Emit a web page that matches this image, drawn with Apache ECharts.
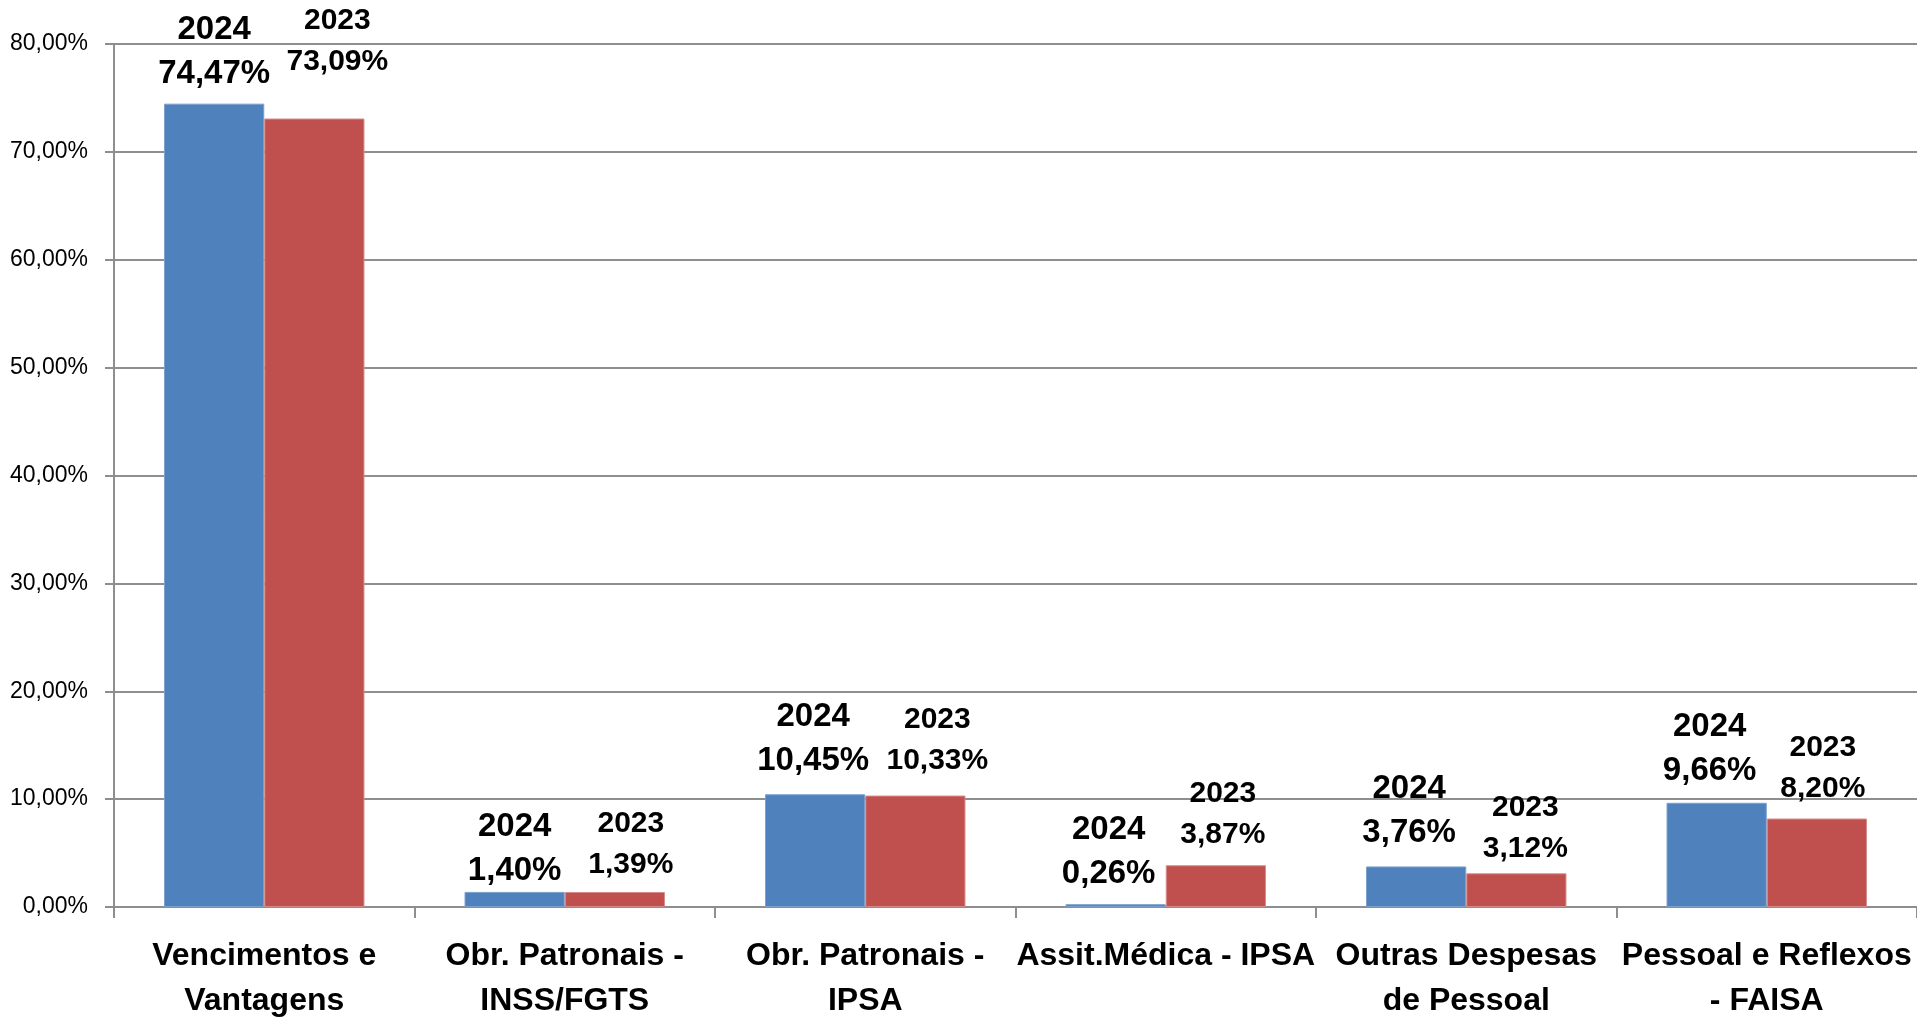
<!DOCTYPE html>
<html>
<head>
<meta charset="utf-8">
<script src="https://cdn.jsdelivr.net/npm/echarts@6/dist/echarts.min.js"></script>
<style>
html,body{margin:0;padding:0;background:#fff;}
#chart{width:1917px;height:1024px;}
</style>
</head>
<body>
<div id="chart"></div>
<script>
// ---- data ----
var categories = [
  "Vencimentos e\nVantagens",
  "Obr. Patronais -\nINSS/FGTS",
  "Obr. Patronais -\nIPSA",
  "Assit.Médica - IPSA",
  "Outras Despesas\nde Pessoal",
  "Pessoal e Reflexos\n- FAISA"
];
var seriesNames = ["2024", "2023"];
var values2024 = [74.47, 1.40, 10.45, 0.26, 3.76, 9.66];
var values2023 = [73.09, 1.39, 10.33, 3.87, 3.12, 8.20];
var yMin = 0, yMax = 80, yInterval = 10;

// ---- presentation (label nudges, as in the reference) ----
var offs2024 = [[0,-8],[0,1],[-2,-11],[-7,-8],[-7,-12],[-7,-10]];
var offs2023 = [[23,-36],[16,-7],[22,-14],[7,-10],[9,-4],[6,-9]];

function pct(v){ return v.toFixed(2).replace('.', ',') + '%'; }

function build(vals, offs){
  return vals.map(function(v, i){
    return { value: v, label: { offset: offs[i] } };
  });
}

var chart = echarts.init(document.getElementById('chart'), null, {renderer:'canvas'});
var gridColor = '#8e8e8e';
var option = {
  animation: false,
  backgroundColor: '#ffffff',
  grid: { left: 114, right: 0, top: 44, bottom: 112, containLabel: false },
  xAxis: {
    type: 'category',
    data: categories,
    axisLine: { show: true, lineStyle: { color: gridColor, width: 2 } },
    axisTick: { show: true, length: 11, alignWithLabel: false, lineStyle: { color: gridColor, width: 2 } },
    axisLabel: {
      interval: 0, margin: 27,
      fontFamily: 'Liberation Sans', fontWeight: 'bold', fontSize: 32,
      lineHeight: 45, color: '#000'
    }
  },
  yAxis: {
    type: 'value', min: yMin, max: yMax, interval: yInterval,
    axisLine: { show: true, lineStyle: { color: gridColor, width: 2 } },
    axisTick: { show: true, length: 9, lineStyle: { color: gridColor, width: 2 } },
    splitLine: { show: true, lineStyle: { color: gridColor, width: 2 } },
    axisLabel: {
      margin: 26, fontFamily: 'Liberation Sans', fontSize: 23, color: '#000',
      formatter: function(v){ return pct(v); }
    }
  },
  series: [
    {
      name: seriesNames[0], type: 'bar', barGap: '0%', barCategoryGap: '33.3%',
      data: build(values2024, offs2024),
      itemStyle: { color: '#4f81bd', borderColor: '#7a9fcf', borderWidth: 1 },
      label: {
        show: true, position: 'top', distance: 0,
        fontFamily: 'Liberation Sans', fontWeight: 'bold', fontSize: 33, lineHeight: 44, color: '#000',
        formatter: function(p){ return p.seriesName + '\n' + pct(p.value); }
      }
    },
    {
      name: seriesNames[1], type: 'bar', barGap: '0%', barCategoryGap: '33.3%',
      data: build(values2023, offs2023),
      itemStyle: { color: '#c0504d', borderColor: '#d58a88', borderWidth: 1 },
      label: {
        show: true, position: 'top', distance: 0,
        fontFamily: 'Liberation Sans', fontWeight: 'bold', fontSize: 30, lineHeight: 41, color: '#000',
        formatter: function(p){ return p.seriesName + '\n' + pct(p.value); }
      }
    }
  ]
};
chart.setOption(option);
</script>
</body>
</html>
